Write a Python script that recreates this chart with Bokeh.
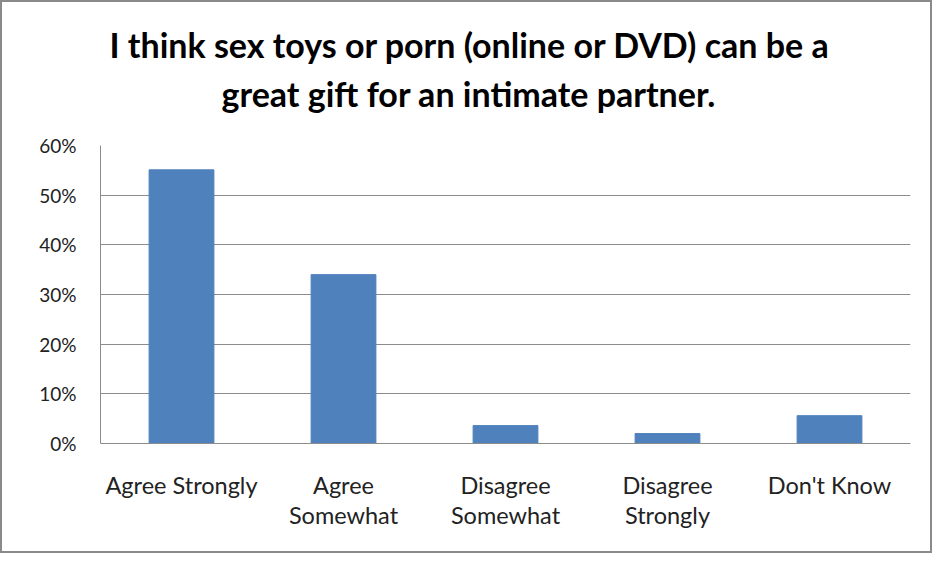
from bokeh.plotting import figure
from bokeh.embed import file_html
from bokeh.resources import INLINE
from bokeh.models import NumeralTickFormatter, FixedTicker, Title

categories = ["Agree Strongly", "Agree\nSomewhat", "Disagree\nSomewhat", "Disagree\nStrongly", "Don't Know"]
values = [0.551, 0.340, 0.036, 0.020, 0.056]
y_ticks = [0.0, 0.1, 0.2, 0.3, 0.4, 0.5, 0.6]
title_lines = ["I think sex toys or porn (online or DVD) can be a",
               "great gift for an intimate partner."]

p = figure(width=932, height=553, x_range=categories, y_range=(0, 0.6),
           output_backend="svg", toolbar_location=None, title=None,
           min_border_left=98, min_border_right=24, min_border_top=143, min_border_bottom=112)
p.styles = {"border": "2px solid #8a8a8a"}

p.vbar(x=categories, top=values, width=0.4, fill_color="#4F81BD", line_color="#4F81BD")

t2 = Title(text=title_lines[1], align="left", text_font="Lato", text_font_size="34px",
           text_font_style="bold", text_color="black", standoff=64, offset=121,
           text_line_height=1.0)
t1 = Title(text=title_lines[0], align="left", text_font="Lato", text_font_size="34px",
           text_font_style="bold", text_color="black", standoff=-52, offset=9,
           text_line_height=1.0)
p.add_layout(t2, "above")
p.add_layout(t1, "above")

p.outline_line_color = None
p.xgrid.grid_line_color = None
p.ygrid.grid_line_color = "#8c8c8c"
p.ygrid.grid_line_width = 1

p.yaxis.ticker = FixedTicker(ticks=y_ticks)
p.yaxis.formatter = NumeralTickFormatter(format="0%")
p.yaxis.major_tick_line_color = None
p.yaxis.minor_tick_line_color = None
p.yaxis.axis_line_color = "#8c8c8c"
p.yaxis.major_label_text_font = "Lato"
p.yaxis.major_label_text_font_size = "19px"
p.yaxis.major_label_text_color = "#222222"
p.yaxis.major_label_standoff = 18

p.xaxis.major_tick_line_color = None
p.xaxis.minor_tick_line_color = None
p.xaxis.axis_line_color = "#8c8c8c"
p.xaxis.major_label_text_font = "Lato"
p.xaxis.major_label_text_font_size = "23.5px"
p.xaxis.major_label_text_color = "#222222"
p.xaxis.major_label_standoff = 21
p.xaxis.major_label_text_line_height = 1.08

open("out.html", "w").write(file_html(p, INLINE))
